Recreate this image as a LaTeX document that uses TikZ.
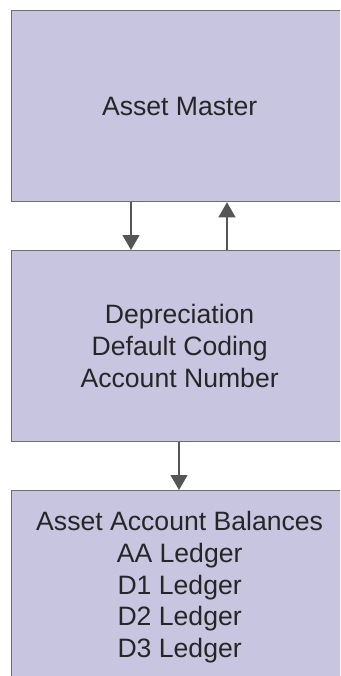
\documentclass[tikz,border=0pt]{standalone}
\usepackage{fontspec}
\setmainfont{Liberation Sans}
\usetikzlibrary{arrows.meta}
\definecolor{boxfill}{RGB}{200,197,225}
\definecolor{boxline}{RGB}{110,110,112}
\definecolor{arrcol}{RGB}{85,85,88}
\tikzset{
  boxstyle/.style={draw=boxline, fill=boxfill, line width=1.3pt, rectangle, anchor=north west,
     minimum width=336pt, align=center, inner sep=0pt,
     font=\fontsize{26.6}{31.7}\selectfont, text=black!85},
  arr/.style={draw=arrcol, line width=1.1pt, -{Triangle[length=15pt,width=17pt]}}
}
\begin{document}
\begin{tikzpicture}[x=1pt,y=-1pt]
\useasboundingbox (0,0) rectangle (340,676);
\clip (0,0) rectangle (340,676);
\node[boxstyle, minimum height=191pt] (master) at (11,10) {Asset Master};
\node[boxstyle, minimum height=191pt] (dep) at (11,250) {Depreciation\\Default Coding\\Account Number};
\node[boxstyle, minimum height=193pt] (bal) at (11,490) {Asset Account Balances\\AA Ledger\\D1 Ledger\\D2 Ledger\\D3 Ledger};
\coordinate (xa) at (131,0);
\coordinate (xb) at (227,0);
\coordinate (xc) at (179,0);
\draw[arr] (master.south -| xa) -- (dep.north -| xa);
\draw[arr] (dep.north -| xb) -- (master.south -| xb);
\draw[arr] (dep.south -| xc) -- (bal.north -| xc);
\end{tikzpicture}
\end{document}
